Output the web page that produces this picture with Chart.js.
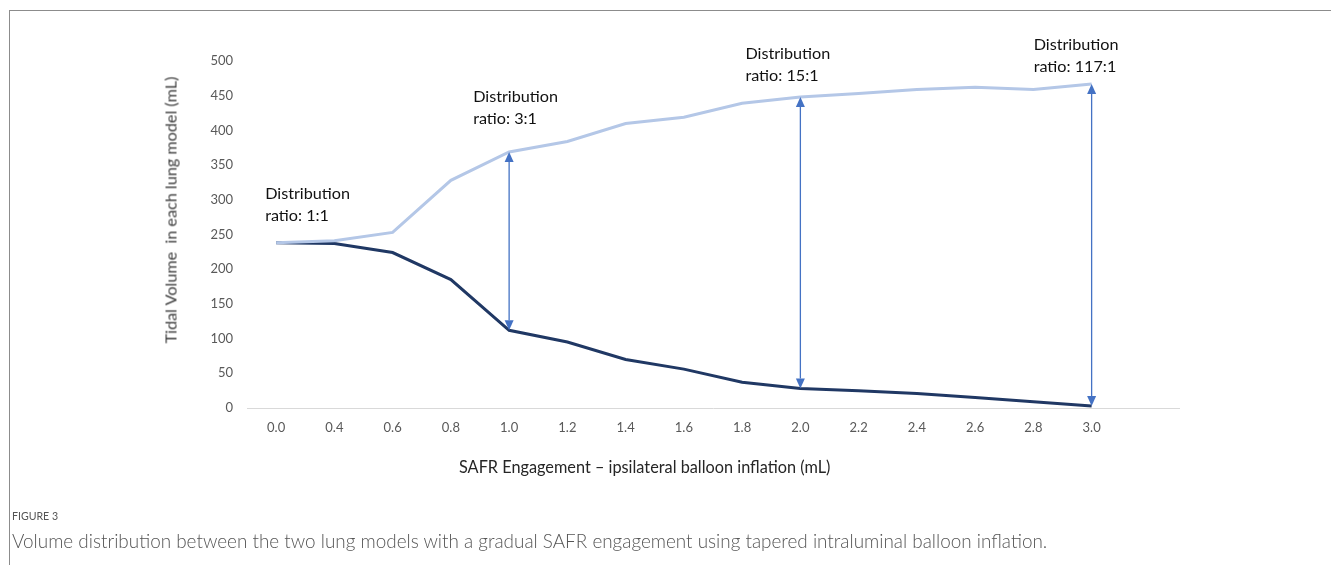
<!DOCTYPE html>
<html>
<head>
<meta charset="utf-8">
<script src="https://cdn.jsdelivr.net/npm/chart.js@4.4.1/dist/chart.umd.min.js"></script>
<style>
  body { margin: 0; background: #fff; font-family: Lato, "Open Sans", sans-serif; }
  #wrap { position: relative; width: 1331px; height: 565px; overflow: hidden; }
  #chart { position: absolute; left: 0; top: 0; }
  .frame-top { position: absolute; left: 9px; top: 10px; width: 1322px; height: 1px; background: #8c8c8c; }
  .frame-left { position: absolute; left: 9px; top: 10px; width: 1px; height: 555px; background: #8c8c8c; }
  .ytitle { position: absolute; left: 170px; top: 210px; transform: translate(-50%, -50%) rotate(-90deg);
    white-space: pre; font-size: 16.2px; color: #404040; }
  .xtitle { position: absolute; left: 459px; top: 457px; font-size: 16.3px; color: #262626; white-space: nowrap; }
  .fig { position: absolute; left: 12px; top: 510px; font-size: 10.6px; color: #555; }
  .cap { position: absolute; left: 12px; top: 529px; font-size: 18.9px; font-weight: 300; color: #555; white-space: nowrap; }
</style>
</head>
<body>
<div id="wrap">
  <canvas id="chart" width="1331" height="565"></canvas>
  <div class="frame-top"></div>
  <div class="frame-left"></div>
  <div class="ytitle">Tidal Volume  in each lung model (mL)</div>
  <div class="xtitle">SAFR Engagement – ipsilateral balloon inflation (mL)</div>
  <div class="fig">FIGURE 3</div>
  <div class="cap">Volume distribution between the two lung models with a gradual SAFR engagement using tapered intraluminal balloon inflation.</div>
</div>
<script>
// Data
const inflation = ["0.0", "0.4", "0.6", "0.8", "1.0", "1.2", "1.4", "1.6", "1.8", "2.0", "2.2", "2.4", "2.6", "2.8", "3.0", ""];
const lungA = [238, 241, 253, 328, 369, 384, 410, 419, 439, 448, 453, 459, 462, 459, 467];
const lungB = [238, 237, 224, 185, 112, 95, 70, 56, 37, 28, 25, 21, 15, 9, 3];
const yTicks = [0, 50, 100, 150, 200, 250, 300, 350, 400, 450, 500];

// Double arrows between the two curves
const arrowIndex = [4, 9, 14];

// Ratio notes: category index and y value where the first line sits
const notes = [
  { text: ["Distribution", "ratio: 1:1"], idx: 0, dx: -11, value: 308 },
  { text: ["Distribution", "ratio: 3:1"], idx: 4, dx: -36, value: 448 },
  { text: ["Distribution", "ratio: 15:1"], idx: 9, dx: -55, value: 511 },
  { text: ["Distribution", "ratio: 117:1"], idx: 14, dx: -58, value: 523 }
];

const arrowPlugin = {
  id: "arrows",
  afterDatasetsDraw(chart) {
    const ctx = chart.ctx;
    const metaA = chart.getDatasetMeta(0);
    const metaB = chart.getDatasetMeta(1);
    ctx.save();
    ctx.strokeStyle = "#4472C4";
    ctx.fillStyle = "#4472C4";
    ctx.lineWidth = 1.3;
    arrowIndex.forEach((i) => {
      const x = metaA.data[i].x;
      const yTop = metaA.data[i].y;
      const yBot = metaB.data[i].y;
      const h = 10, w = 4.5;
      ctx.beginPath();
      ctx.moveTo(x, yTop + h);
      ctx.lineTo(x, yBot - h);
      ctx.stroke();
      ctx.beginPath();
      ctx.moveTo(x, yTop);
      ctx.lineTo(x - w, yTop + h);
      ctx.lineTo(x + w, yTop + h);
      ctx.closePath();
      ctx.fill();
      ctx.beginPath();
      ctx.moveTo(x, yBot);
      ctx.lineTo(x - w, yBot - h);
      ctx.lineTo(x + w, yBot - h);
      ctx.closePath();
      ctx.fill();
    });

    // ratio notes
    const xs = chart.scales.x, ys = chart.scales.y;
    ctx.fillStyle = "#111";
    ctx.font = "16.2px Lato, 'Open Sans', sans-serif";
    ctx.textAlign = "left";
    ctx.textBaseline = "middle";
    notes.forEach((n) => {
      const x = xs.getPixelForValue(n.idx) + n.dx;
      const y = ys.getPixelForValue(n.value);
      n.text.forEach((line, k) => ctx.fillText(line, x, y + k * 22));
    });
    ctx.restore();
  }
};

new Chart(document.getElementById("chart"), {
  type: "line",
  data: {
    labels: inflation,
    datasets: [
      {
        label: "Lung model A",
        data: lungA,
        borderColor: "#B4C7E7",
        borderWidth: 3,
        pointRadius: 0,
        tension: 0
      },
      {
        label: "Lung model B",
        data: lungB,
        borderColor: "#203864",
        borderWidth: 3,
        pointRadius: 0,
        tension: 0
      }
    ]
  },
  options: {
    responsive: false,
    animation: false,
    layout: { padding: { left: 180, top: 61, right: 152, bottom: 100 } },
    plugins: { legend: { display: false }, tooltip: { enabled: false } },
    scales: {
      x: {
        offset: true,
        grid: { display: false, drawTicks: false },
        border: { display: true, color: "#d9d9d9", width: 1 },
        ticks: {
          color: "#595959",
          font: { family: "Lato, 'Open Sans', sans-serif", size: 13 },
          padding: 12,
          maxRotation: 0,
          autoSkip: false
        },
        afterFit(scale) { scale.height = 57; }
      },
      y: {
        min: 0,
        max: 500,
        grid: { display: false, drawTicks: false },
        border: { display: false },
        afterBuildTicks(scale) { scale.ticks = yTicks.map((v) => ({ value: v })); },
        ticks: {
          color: "#595959",
          font: { family: "Lato, 'Open Sans', sans-serif", size: 13 },
          padding: 14
        },
        afterFit(scale) { scale.width = 67; }
      }
    }
  },
  plugins: [arrowPlugin]
});
</script>
</body>
</html>
